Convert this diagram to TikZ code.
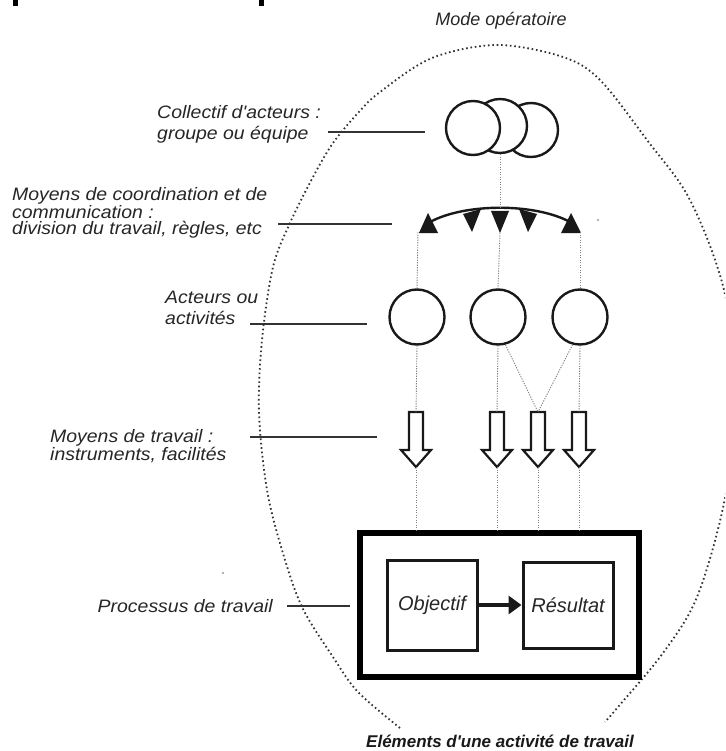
\documentclass[tikz,border=0pt]{standalone}
\usepackage{fontspec}
\newfontfamily\lblfont{Liberation Sans}
\newfontfamily\ttlfont{Liberation Sans}
\usetikzlibrary{arrows.meta}
\begin{document}
\begin{tikzpicture}[x=1pt,y=-1pt,
  lbl/.style={font=\lblfont\itshape\fontsize{18}{18}\selectfont, align=left, inner sep=0pt, anchor=west, text=black!85, xscale=1.08},
  boxtxt/.style={font=\lblfont\itshape\fontsize{20}{22}\selectfont, text=black!85},
  lead/.style={draw=black!80, line width=1.1pt},
  conn/.style={draw=black!50, line width=0.9pt, dash pattern=on 1.2pt off 1.3pt},
  ring/.style={circle, draw=black!90, line width=2.4pt, fill=white, minimum size=54pt, inner sep=0pt},
  oval/.style={draw=black!80, line width=1.8pt, dash pattern=on 1.6pt off 2.8pt},
  tri/.style={fill=black!90},
  arcline/.style={draw=black!90, line width=2.4pt},
  barr/.style={draw=black!90, line width=2.2pt, fill=white, line join=miter},
  blockarr/.pic={\path[barr] (-7,0) -- (-7,38) -- (-15,38) -- (0,55) -- (15,38) -- (7,38) -- (7,0) -- cycle;
                 \coordinate (-top) at (0,0); \coordinate (-tip) at (0,55);},
]
\clip (0,0) rectangle (725,751);
\fill[white] (0,0) rectangle (725,751);

% stray marks at top
\fill[black] (13,0) rectangle (18,6);
\fill[black] (259,0) rectangle (264,6);

% dotted oval (Mode operatoire)
\draw[oval] plot[smooth, tension=0.55] coordinates {
 (400,728) (358,692) (333,657) (302,607) (282,550) (267,490) (259,413) (262,340) (273,267)
 (290,223) (313,177) (333,143) (358,113) (380,92) (432,58) (497,45) (563,57) (600,80)
 (647,140) (690,200) (724,290) (738,397) (724,503) (697,597) (663,653) (618,707) (605,722)};

\node[font=\lblfont\itshape\fontsize{18}{18}\selectfont, text=black!85] (mode) at (501,21) {Mode opératoire};

% labels
\node[lbl, font=\lblfont\itshape\fontsize{18}{21}\selectfont] (lab1) at (157,124) {Collectif d\char39acteurs :\\groupe ou équipe};
\node[lbl, font=\lblfont\itshape\fontsize{18}{16.5}\selectfont] (lab2) at (12,213) {Moyens de coordination et de\\communication :\\division du travail, règles, etc};
\node[lbl, font=\lblfont\itshape\fontsize{18}{21}\selectfont] (lab3) at (165,308) {Acteurs ou\\activités};
\node[lbl, font=\lblfont\itshape\fontsize{18}{18}\selectfont] (lab4) at (50,446) {Moyens de travail :\\instruments, facilités};
\node[lbl, anchor=east] (lab5) at (273,606) {Processus de travail};

% leader lines
\coordinate (l1a) at (328,132); \coordinate (l1b) at (425,132);
\coordinate (l2a) at (278,224); \coordinate (l2b) at (392,224);
\coordinate (l3a) at (250,324); \coordinate (l3b) at (367,324);
\coordinate (l4a) at (250,437); \coordinate (l4b) at (377,437);
\coordinate (l5a) at (287,606); \coordinate (l5b) at (350,606);
\draw[lead] (l1a) -- (l1b);
\draw[lead] (l2a) -- (l2b);
\draw[lead] (l3a) -- (l3b);
\draw[lead] (l4a) -- (l4b);
\draw[lead] (l5a) -- (l5b);

% collective circles
\node[ring] (c3) at (531,130) {};
\node[ring] (c2) at (500,126) {};
\node[ring] (c1) at (473,128) {};

% coordination arc
\coordinate (arcL) at (430,222);
\coordinate (arcT) at (500,208);
\coordinate (arcR) at (570,222);
\draw[arcline] (arcL) .. controls (465,203) and (535,203) .. (arcR);

% actor circles
\node[ring, minimum size=55pt] (m1) at (417,317) {};
\node[ring, minimum size=55pt] (m2) at (498,317) {};
\node[ring, minimum size=55pt] (m3) at (580,317) {};

% triangles on arc
\coordinate (tLb) at (418,232);
\coordinate (tRb) at (580,232);
\coordinate (tCa) at (500,233);
\fill[tri] (419,233) -- (428,213) -- (438,233) -- cycle;
\fill[tri] (561,233) -- (571,213) -- (581,233) -- cycle;
\fill[tri] (491,211) -- (509,211) -- (tCa) -- cycle;
\fill[tri] (463,214) -- (481,209) -- (472,232) -- cycle;
\fill[tri] (519,209) -- (537,214) -- (528,232) -- cycle;

% block arrows
\pic (a1) at (416,412) {blockarr};
\pic (a2) at (497,412) {blockarr};
\pic (a3) at (538,412) {blockarr};
\pic (a4) at (579,412) {blockarr};

% process box
\node[draw=black, line width=6.5pt, minimum width=279pt, minimum height=144pt, inner sep=0pt] (box) at (499.5,605) {};
\node[draw=black!90, line width=3pt, minimum width=90pt, minimum height=90pt, inner sep=0pt, boxtxt] (obj) at (432,605) {Objectif};
\node[draw=black!90, line width=3pt, minimum width=90pt, minimum height=86pt, inner sep=0pt, boxtxt] (res) at (568,605) {Résultat};
\draw[line width=4pt, draw=black!90, -{Triangle[length=13pt,width=18pt]}] (obj.east) -- (res.west);

% dotted connectors
\draw[conn] (c2.south) -- (arcT);
\draw[conn] (tCa) -- (m2.north);
\draw[conn] (m1.north) -- (tLb);
\draw[conn] (m3.north) -- (tRb);
\draw[conn] (m1.south) -- (a1-top);
\draw[conn] (m2.south) -- (a2-top);
\draw[conn] (m2.-75) -- (a3-top);
\draw[conn] (m3.-105) -- (a3-top);
\draw[conn] (m3.south) -- (a4-top);
\draw[conn] (a1-tip) -- (a1-tip |- box.north);
\draw[conn] (a2-tip) -- (a2-tip |- box.north);
\draw[conn] (a3-tip) -- (a3-tip |- box.north);
\draw[conn] (a4-tip) -- (a4-tip |- box.north);

% stray specks
\fill[black!60] (598,220) circle (0.9);
\fill[black!60] (223,573) circle (0.9);

% title
\node[font=\ttlfont\bfseries\itshape\fontsize{17}{20}\selectfont, text=black!90] (title) at (500,741) {Eléments d\char39une activité de travail};
\end{tikzpicture}
\end{document}
